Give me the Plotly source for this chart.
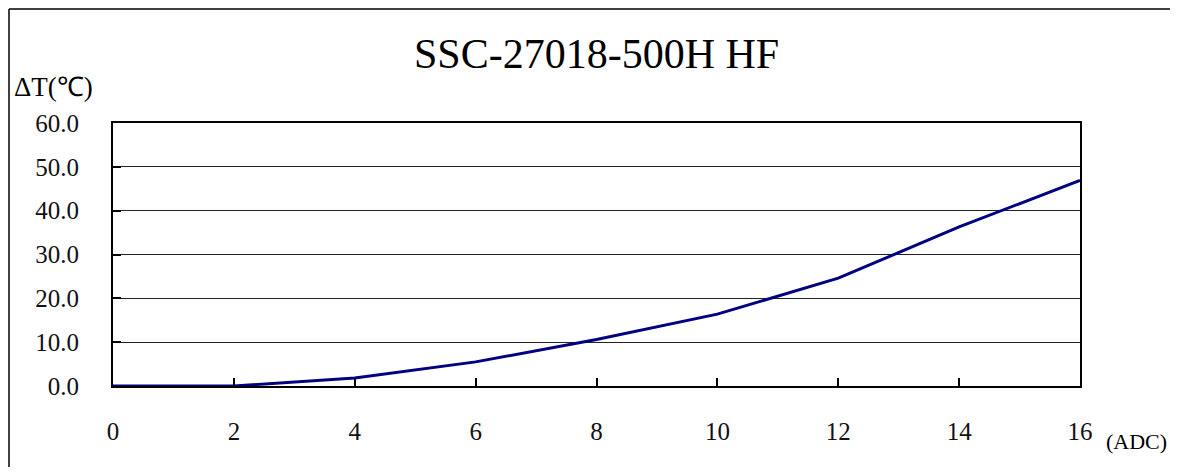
import plotly.graph_objects as go

current_adc = [0, 2, 4, 6, 8, 10, 12, 14, 16]
delta_t = [0.0, 0.0, 1.8, 5.5, 10.6, 16.4, 24.6, 36.3, 46.9]
y_ticks = [0, 10, 20, 30, 40, 50, 60]
y_tick_text = ["0.0", "10.0", "20.0", "30.0", "40.0", "50.0", "60.0"]
x_ticks = [0, 2, 4, 6, 8, 10, 12, 14, 16]

OFF = 8  # page body margin
W, H = 1178 - 2 * OFF, 475 - 2 * OFF
L, T = 113 - OFF, 123 - OFF
R = W - (1080 - OFF)
B = H - (386 - OFF)
pw, ph = W - L - R, H - T - B

def px(x):
    return (x - OFF - L) / pw

def py(y):
    return (H - B - (y - OFF)) / ph

font = "Liberation Serif"

fig = go.Figure()
fig.add_trace(go.Scatter(
    x=current_adc, y=delta_t, mode="lines",
    line=dict(color="#000080", width=3), showlegend=False, hoverinfo="skip",
))

fig.update_layout(
    width=W, height=H,
    margin=dict(l=L, r=R, t=T, b=B),
    paper_bgcolor="white", plot_bgcolor="white",
    font=dict(family=font, color="black", size=24),
    xaxis=dict(
        range=[0, 16], tickvals=x_ticks, ticks="inside", ticklen=8, tickwidth=1.5,
        tickcolor="black", showgrid=False, zeroline=False,
        showline=True, linecolor="black", linewidth=2, mirror=True,
        tickfont=dict(size=25, family=font, color="#111111"), ticklabelstandoff=22,
    ),
    yaxis=dict(
        range=[0, 60], tickvals=y_ticks, ticktext=y_tick_text, ticks="inside",
        ticklen=8, tickwidth=1.5, tickcolor="black",
        showgrid=True, gridcolor="#222222", gridwidth=1, zeroline=False,
        showline=True, linecolor="black", linewidth=2, mirror=True,
        tickfont=dict(size=25, family=font, color="#111111"), ticklabelstandoff=27,
    ),
    shapes=[
        dict(type="line", xref="paper", yref="paper",
             x0=px(9), x1=px(1170), y0=py(9), y1=py(9),
             line=dict(color="black", width=1.5), layer="below"),
        dict(type="line", xref="paper", yref="paper",
             x0=px(9), x1=px(9), y0=py(9), y1=py(467),
             line=dict(color="black", width=1.5), layer="below"),
    ],
    annotations=[
        dict(text="SSC-27018-500H HF", xref="paper", yref="paper",
             x=px(596), y=py(54), xanchor="center", yanchor="middle",
             showarrow=False, font=dict(size=42, family=font)),
        dict(text="ΔT(℃)", xref="paper", yref="paper",
             x=px(12), y=py(87), xanchor="left", yanchor="middle",
             showarrow=False, font=dict(size=27, family=font)),
        dict(text="(ADC)", xref="paper", yref="paper",
             x=px(1104), y=py(441), xanchor="left", yanchor="middle",
             showarrow=False, font=dict(size=22, family=font)),
    ],
)

fig.write_html("out.html")
